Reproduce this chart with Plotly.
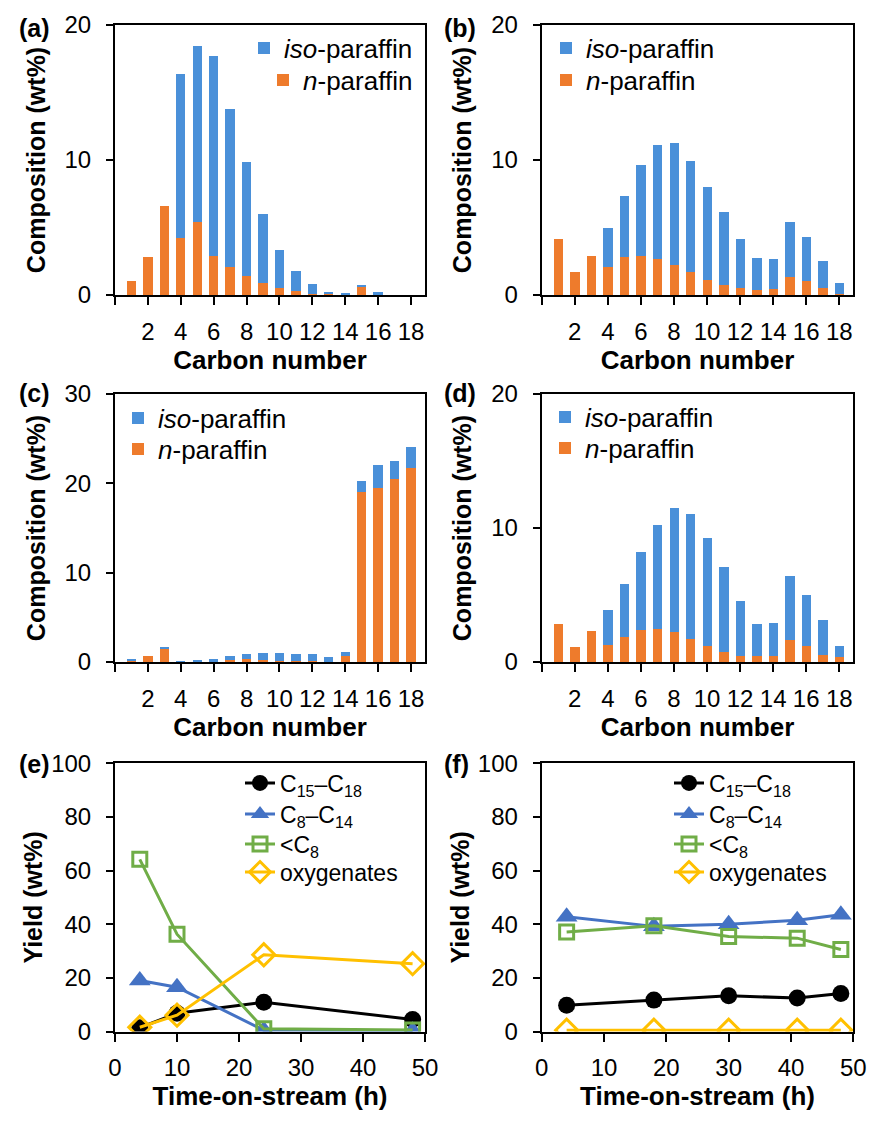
import plotly.graph_objects as go
from plotly.subplots import make_subplots

# ---------------- data ----------------
carbon = list(range(1, 19))

a_n = [1.05, 2.79, 6.57, 4.2, 5.4, 2.91, 2.04, 1.44, 0.87, 0.52, 0.3, 0.1, 0.05, 0.02, 0.57, 0.02, 0, 0]
a_iso = [0, 0, 0, 12.14, 13.08, 14.8, 11.74, 8.39, 5.1, 2.84, 1.49, 0.7, 0.2, 0.1, 0.15, 0.2, 0, 0]

b_n = [4.18, 1.67, 2.86, 2.04, 2.84, 2.91, 2.66, 2.24, 1.67, 1.09, 0.77, 0.52, 0.37, 0.42, 1.34, 1.02, 0.52, 0.1]
b_iso = [0, 0, 0, 2.89, 4.47, 6.72, 8.46, 9.03, 8.23, 6.92, 5.4, 3.66, 2.34, 2.27, 4.06, 3.31, 2.02, 0.8]

c_n = [0.22, 0.67, 1.56, 0.0, 0.1, 0.05, 0.2, 0.33, 0.22, 0.15, 0.1, 0.08, 0.05, 0.71, 19.02, 19.5, 20.5, 21.7]
c_iso = [0.03, 0.0, 0.1, 0.02, 0.05, 0.25, 0.43, 0.56, 0.75, 0.82, 0.83, 0.78, 0.47, 0.41, 1.19, 2.57, 2.05, 2.42]

d_n = [2.84, 1.14, 2.29, 1.27, 1.84, 2.39, 2.49, 2.24, 1.72, 1.17, 0.77, 0.45, 0.42, 0.45, 1.64, 1.17, 0.55, 0.4]
d_iso = [0, 0, 0, 2.59, 4.01, 5.82, 7.73, 9.23, 9.35, 8.11, 6.32, 4.08, 2.42, 2.49, 4.8, 3.85, 2.58, 0.82]

e_time = [4, 10, 24, 48]
e_c15 = [1.4, 6.8, 10.9, 4.5]
e_c8 = [19.0, 16.5, 0.5, 0.3]
e_lt8 = [64.2, 36.3, 1.0, 0.6]
e_oxy = [1.6, 6.1, 28.6, 25.3]

f_time = [4, 18, 30, 41, 48]
f_c15 = [9.8, 11.7, 13.3, 12.5, 14.2]
f_c8 = [42.8, 39.2, 40.0, 41.5, 43.5]
f_lt8 = [37.1, 39.4, 35.4, 34.8, 30.6]
f_oxy = [0.5, 0.5, 0.5, 0.5, 0.5]

bar_ticks = [0, 2, 4, 6, 8, 10, 12, 14, 16, 18]
bar_ticktext = ["", "2", "4", "6", "8", "10", "12", "14", "16", "18"]

bar_names = ["<i>n</i>-paraffin", "<i>iso</i>-paraffin"]
line_names = ["C<sub>15</sub>–C<sub>18</sub>", "C<sub>8</sub>–C<sub>14</sub>", "&lt;C<sub>8</sub>", "oxygenates"]

# ---------------- style ----------------
W, H = 876, 1125
FONT = "Liberation Sans, Arial, sans-serif"
BLUE_BAR = "#4a90d9"
ORANGE_BAR = "#ee7b2c"
LINE_COLORS = ["#000000", "#4472c4", "#70ad47", "#ffc000"]
LINE_SYMBOLS = ["circle", "triangle-up", "square-open", "diamond-open"]
LINE_SIZES = [17, 19, 14, 17]

bar_leg_font = dict(family=FONT, size=26, color="black")
line_leg_font = dict(family=FONT, size=23, color="black")

# legend positions per panel: (x_px, anchor, [row centre y_px for each item in display order])
bar_leg_pos = [(418, "right", [48, 80]), (546, "left", [48, 80]),
               (118, "left", [418, 449]), (545, "left", [417, 448])]
line_leg_pos = [(240, "left", [783, 814, 844, 872]), (669, "left", [783, 814, 844, 872])]

fig = make_subplots(rows=3, cols=2)
legend_layout = {}
leg_counter = [0]


def new_legend(x_px, anchor, y_px, font):
    leg_counter[0] += 1
    key = "legend" if leg_counter[0] == 1 else f"legend{leg_counter[0]}"
    legend_layout[key] = dict(x=x_px / W, xanchor=anchor, y=1 - y_px / H, yanchor="middle",
                              font=font, bgcolor="rgba(0,0,0,0)", borderwidth=0)
    return key


bar_sets = [(a_n, a_iso), (b_n, b_iso), (c_n, c_iso), (d_n, d_iso)]
for i, (nvals, isovals) in enumerate(bar_sets):
    r, c = i // 2 + 1, i % 2 + 1
    lx, anc, rows_y = bar_leg_pos[i]
    # display order: iso first (top row), n second
    lg_iso = new_legend(lx, anc, rows_y[0], bar_leg_font)
    lg_n = new_legend(lx, anc, rows_y[1], bar_leg_font)
    fig.add_trace(go.Bar(x=carbon, y=nvals, name=bar_names[0],
                         marker=dict(color=ORANGE_BAR, line=dict(width=0)),
                         width=0.57, legend=lg_n), row=r, col=c)
    fig.add_trace(go.Bar(x=carbon, y=isovals, name=bar_names[1],
                         marker=dict(color=BLUE_BAR, line=dict(width=0)),
                         width=0.57, legend=lg_iso), row=r, col=c)

line_sets = [(e_time, [e_c15, e_c8, e_lt8, e_oxy]), (f_time, [f_c15, f_c8, f_lt8, f_oxy])]
for j, (t, series) in enumerate(line_sets):
    lx, anc, rows_y = line_leg_pos[j]
    for k, vals in enumerate(series):
        lg = new_legend(lx, anc, rows_y[k], line_leg_font)
        col = LINE_COLORS[k]
        mk = dict(symbol=LINE_SYMBOLS[k], size=LINE_SIZES[k], color=col)
        if "open" in LINE_SYMBOLS[k]:
            mk["line"] = dict(width=3, color=col)
        fig.add_trace(go.Scatter(x=t, y=vals, mode="lines+markers", name=line_names[k],
                                 line=dict(color=col, width=3), marker=mk, legend=lg),
                      row=3, col=j + 1)

# domains (pixel positions converted to paper fractions)
xdom = [(115 / W, 425 / W), (541.7 / W, 853.3 / W)]
ydom = [(1 - 295 / H, 1 - 25 / H), (1 - 662 / H, 1 - 394 / H), (1 - 1031.5 / H, 1 - 763.3 / H)]

axis_common = dict(showline=True, linecolor="black", linewidth=2, mirror=True,
                   ticks="outside", tickcolor="black", tickwidth=2,
                   showgrid=False, zeroline=False, automargin=False,
                   tickfont=dict(family=FONT, size=24, color="black"))
xtitle_font = dict(family=FONT, size=26, color="black")
ytitle_font = dict(family=FONT, size=25, color="black")

for idx in range(6):
    r, c = idx // 2, idx % 2
    n = idx + 1
    xa = "xaxis" if n == 1 else f"xaxis{n}"
    ya = "yaxis" if n == 1 else f"yaxis{n}"
    if r < 2:
        xtitle = "<b>Carbon number</b>"
        xextra = dict(range=[0, 18.85], tickvals=bar_ticks, ticktext=bar_ticktext)
        ymax = 30 if idx == 2 else 20
        yextra = dict(range=[0, ymax], dtick=10, tick0=0)
        ytitle = "<b>Composition (wt%)</b>"
        ystand = 12
    else:
        xtitle = "<b>Time-on-stream (h)</b>"
        xextra = dict(range=[0, 50], dtick=10, tick0=0)
        yextra = dict(range=[0, 100], dtick=20, tick0=0)
        ytitle = "<b>Yield (wt%)</b>"
        ystand = 1
    fig.layout[xa].update(domain=list(xdom[c]), ticklen=8, ticklabelstandoff=6,
                          title=dict(text=xtitle, font=xtitle_font, standoff=4),
                          **axis_common, **xextra)
    fig.layout[ya].update(domain=list(ydom[r]), ticklen=7, ticklabelstandoff=10,
                          title=dict(text=ytitle, font=ytitle_font, standoff=ystand),
                          **axis_common, **yextra)

for k, v in legend_layout.items():
    fig.layout[k] = v

panel_labels = [("(a)", 17, 28), ("(b)", 442, 28), ("(c)", 17, 393),
                ("(d)", 442, 393), ("(e)", 17, 764), ("(f)", 442, 764)]
for txt, px, py in panel_labels:
    fig.add_annotation(text=f"<b>{txt}</b>", xref="paper", yref="paper",
                       x=px / W, y=1 - py / H, xanchor="left", yanchor="middle",
                       showarrow=False, font=dict(family=FONT, size=25, color="black"))

fig.update_layout(template="none", width=W, height=H, margin=dict(l=0, r=0, t=0, b=0),
                  barmode="stack", bargap=0, showlegend=True,
                  plot_bgcolor="white", paper_bgcolor="white",
                  font=dict(family=FONT, color="black"))

fig.write_html("out.html", config={"displayModeBar": False},
               post_script="document.body.style.margin='0';")
